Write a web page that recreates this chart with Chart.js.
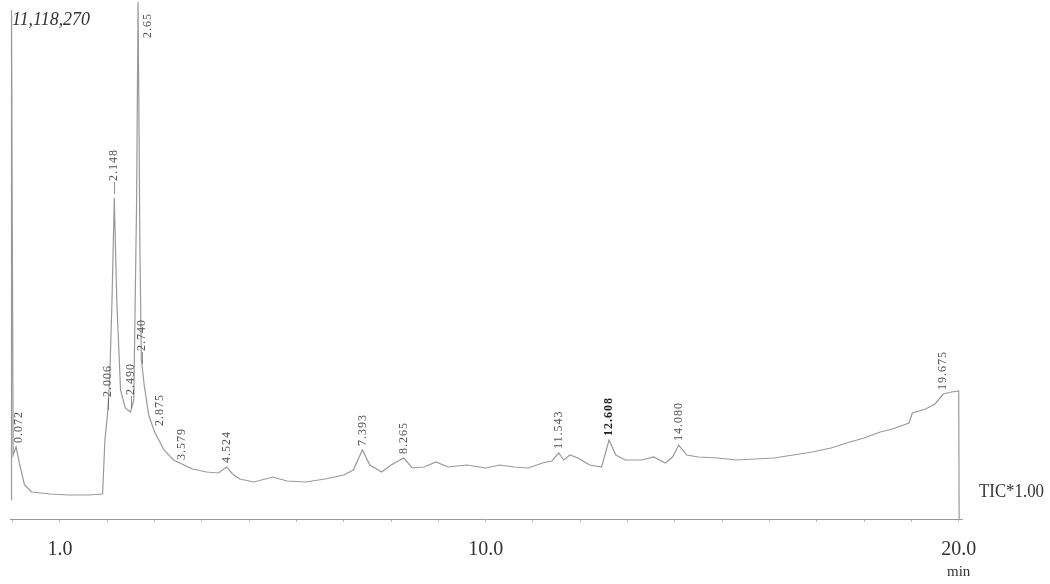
<!DOCTYPE html>
<html>
<head>
<meta charset="utf-8">
<script src="https://cdn.jsdelivr.net/npm/chart.js@4/dist/chart.umd.min.js"></script>
<style>
  html, body { margin: 0; padding: 0; background: #ffffff; }
  #wrap { position: relative; width: 1050px; height: 584px; }
</style>
</head>
<body>
<div id="wrap"><canvas id="c"></canvas></div>
<script>
// ---- data (retention time in min, TIC intensity) ----
const times = [
  -0.03, -0.025, 0.01, 0.072, 0.15, 0.25, 0.40, 0.80, 1.20, 1.60, 1.90, 1.95,
  2.006, 2.05, 2.10, 2.148, 2.20, 2.28, 2.38, 2.490, 2.56, 2.62, 2.65, 2.69,
  2.72, 2.740, 2.78, 2.875, 3.00, 3.20, 3.40, 3.579, 3.80, 4.10, 4.35, 4.524,
  4.65, 4.80, 5.10, 5.50, 5.80, 6.20, 6.60, 7.00, 7.20, 7.393, 7.55, 7.80,
  8.00, 8.265, 8.45, 8.70, 8.95, 9.20, 9.60, 10.00, 10.30, 10.60, 10.90, 11.20,
  11.40, 11.543, 11.65, 11.78, 11.95, 12.20, 12.45, 12.608, 12.75, 12.95, 13.30, 13.55,
  13.80, 13.95, 14.080, 14.25, 14.50, 14.90, 15.30, 15.70, 16.10, 16.50, 16.90, 17.30,
  17.70, 18.00, 18.34, 18.60, 18.95, 19.02, 19.30, 19.50, 19.675, 19.85, 20.00, 20.01
];
const intensities = [
  408600, 10946000, 1376300, 1548400, 1161300, 731200, 580600, 537600, 516100, 516100, 537600, 1698900,
  2258100, 2989200, 4709700, 6903200, 4709700, 2774200, 2387100, 2301100, 2559100, 6860200, 11118270, 5785000,
  3419400, 3247300, 2881700, 2236600, 1871000, 1483900, 1268800, 1182800, 1075300, 1010800, 989200, 1118300,
  967700, 860200, 795700, 903200, 817200, 795700, 860200, 946200, 1053800, 1483900, 1161300, 1010800,
  1161300, 1311800, 1096800, 1118300, 1225800, 1118300, 1161300, 1096800, 1161300, 1118300, 1096800, 1204300,
  1247300, 1419400, 1268800, 1376300, 1311800, 1161300, 1118300, 1698900, 1376300, 1268800, 1268800, 1333300,
  1204300, 1333300, 1591400, 1376300, 1333300, 1311800, 1268800, 1290300, 1311800, 1376300, 1440900, 1526900,
  1655900, 1741900, 1871000, 1935500, 2064500, 2279600, 2365600, 2473100, 2688200, 2731200, 2752700, 0
];
const maxIntensity = 11118270;
const peakTimes  = [0.072, 2.006, 2.148, 2.490, 2.65, 2.740, 2.875, 3.579, 4.524, 7.393, 8.265, 11.543, 12.608, 14.080, 19.675];
const peakLabels = ['0.072', '2.006', '2.148', '2.490', '2.65', '2.740', '2.875', '3.579', '4.524', '7.393', '8.265', '11.543', '12.608', '14.080', '19.675'];
const dashedPeaks = ['2.006', '2.148', '2.490', '2.740'];
const minorTickTimes = [0, 1, 2, 3, 4, 5, 6, 7, 8, 9, 10, 11, 12, 13, 14, 15, 16, 17, 18, 19, 20];
const labeledTicks = [1, 10, 20];
const maxLabel = '11,118,270';
const sideLabel = 'TIC*1.00';
const unitLabel = 'min';

// ---- style nudges for peak labels (pixels) ----
const labelNudge = {
  '0.072': { dx: 3, dy: 0 },
  '2.65':  { dx: 10, top: 38 },
  '2.875': { dx: 11, dy: 15 },
  '12.608': { bold: true }
};

const serif = "'Liberation Serif', 'Times New Roman', serif";

const annotate = {
  id: 'annotate',
  afterDatasetsDraw(chart) {
    const ctx = chart.ctx;
    const xs = chart.scales.x, ys = chart.scales.y;
    ctx.save();
    // peak labels
    peakTimes.forEach((t, i) => {
      const lab = peakLabels[i];
      const idx = times.indexOf(t);
      const v = intensities[idx];
      const n = labelNudge[lab] || {};
      let x = xs.getPixelForValue(t) + (n.dx || 0);
      let y = n.top !== undefined ? n.top : ys.getPixelForValue(v) - 4 + (n.dy || 0);
      const txt = (dashedPeaks.includes(lab) ? '\u2014' : '') + lab;
      ctx.save();
      ctx.translate(x, y);
      ctx.rotate(-Math.PI / 2);
      ctx.font = (n.bold ? 'bold ' : '') + '12px ' + serif;
      try { ctx.letterSpacing = '1px'; } catch (e) {}
      ctx.fillStyle = n.bold ? '#222' : '#555';
      ctx.textAlign = 'left';
      ctx.textBaseline = 'middle';
      ctx.fillText(txt, 0, 0);
      ctx.restore();
    });
    // max intensity label
    ctx.fillStyle = '#333';
    ctx.font = 'italic 18px ' + serif;
    ctx.textAlign = 'left';
    ctx.textBaseline = 'alphabetic';
    ctx.fillText(maxLabel, 12, 25, 78);
    // side label
    ctx.font = '19px ' + serif;
    ctx.fillText(sideLabel, 979, 497, 65);
    // unit
    ctx.font = '15px ' + serif;
    ctx.textAlign = 'center';
    ctx.fillText(unitLabel, xs.getPixelForValue(20), 576);
    ctx.restore();
  }
};

new Chart(document.getElementById('c'), {
  type: 'line',
  data: {
    datasets: [{
      data: times.map((t, i) => ({ x: t, y: intensities[i] })),
      borderColor: '#999999',
      borderWidth: 1.2,
      pointRadius: 0,
      tension: 0,
      fill: false,
      clip: false
    }]
  },
  options: {
    responsive: true,
    maintainAspectRatio: false,
    animation: false,
    layout: { padding: { left: 10, right: 88, top: 2, bottom: 6 } },
    plugins: { legend: { display: false }, tooltip: { enabled: false } },
    scales: {
      x: {
        type: 'linear',
        min: -0.057,
        max: 20.07,
        afterBuildTicks: s => { s.ticks = minorTickTimes.map(v => ({ value: v })); },
        afterFit: s => { s.paddingLeft = 0; s.paddingRight = 0; },
        border: { color: '#9a9a9a', width: 1 },
        grid: { drawOnChartArea: false, drawTicks: true, tickLength: 3, color: '#bbbbbb' },
        ticks: {
          autoSkip: false,
          maxRotation: 0,
          padding: 16,
          color: '#333',
          font: { family: serif, size: 20 },
          callback: v => labeledTicks.includes(v) ? v.toFixed(1) : ''
        }
      },
      y: { display: false, min: 0, max: maxIntensity }
    }
  },
  plugins: [annotate]
});
</script>
</body>
</html>
